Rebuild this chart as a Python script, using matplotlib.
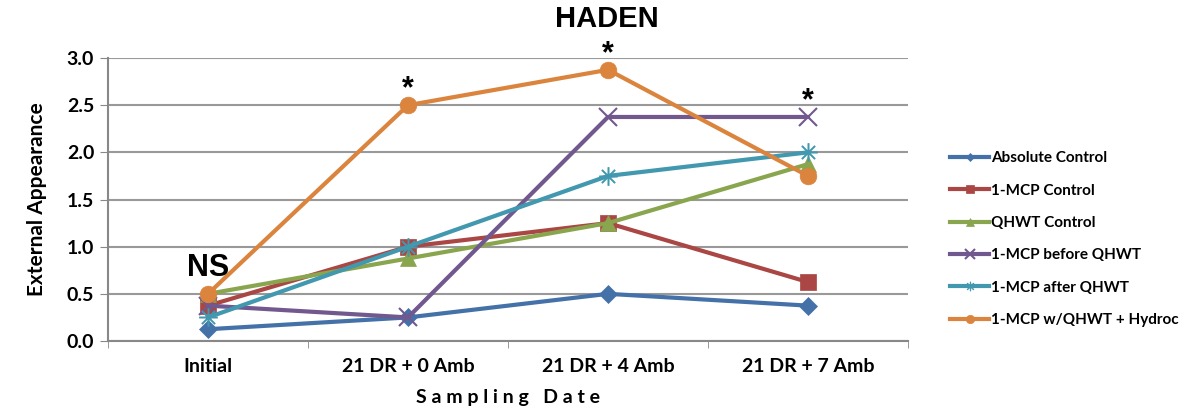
import numpy as np
import matplotlib
matplotlib.use('Agg')
import matplotlib.pyplot as plt
from matplotlib.ticker import FixedLocator

# sampling dates
dates = ['Initial', '21 DR + 0 Amb', '21 DR + 4 Amb', '21 DR + 7 Amb']

# external appearance per treatment
absolute_control = [0.125, 0.25, 0.5, 0.375]
mcp_control = [0.375, 1.0, 1.25, 0.625]
qhwt_control = [0.5, 0.875, 1.25, 1.875]
mcp_before_qhwt = [0.375, 0.25, 2.375, 2.375]
mcp_after_qhwt = [0.25, 1.0, 1.75, 2.0]
mcp_qhwt_hydroc = [0.5, 2.5, 2.875, 1.75]

names = ['Absolute Control', '1-MCP Control', 'QHWT Control',
         '1-MCP before QHWT', '1-MCP after QHWT', '1-MCP w/QHWT + Hydroc']

# significance marks
sig_labels = ['NS', '*', '*', '*']

plt.rcParams['font.family'] = ['Lato', 'DejaVu Sans']

fig = plt.figure(figsize=(11.86, 4.15), dpi=100)
ax = fig.add_axes([0.0911, 0.1783, 0.6745, 0.6819])

x = np.arange(len(dates))
series = [absolute_control, mcp_control, qhwt_control,
          mcp_before_qhwt, mcp_after_qhwt, mcp_qhwt_hydroc]
colors = ['#4472A8', '#AA4643', '#89A54E', '#71588F', '#4198AF', '#DB843D']
markers = ['D', 's', '^', 'x', '$\u2733$', 'o']
sizes = [9, 12, 11, 13, 13, 12]

for s, n, c, m, ms in zip(series, names, colors, markers, sizes):
    ax.plot(x, s, color=c, lw=3, marker=m, markersize=ms, label=n,
            markeredgecolor=c, markeredgewidth=1.5 if m == 'x' else 0.5,
            zorder=3)

ax.set_xlim(-0.5, 3.5)
ax.set_ylim(0, 3.0)
ax.set_yticks(np.arange(0, 3.01, 0.5))
ax.set_yticklabels(['%.1f' % v for v in np.arange(0, 3.01, 0.5)],
                   fontsize=14, fontweight='bold')
ax.set_xticks(x)
ax.set_xticklabels(dates, fontsize=14, fontweight='bold')
ax.xaxis.set_minor_locator(FixedLocator([-0.5, 0.5, 1.5, 2.5, 3.5]))
ax.tick_params(axis='x', which='major', length=0, pad=12)
ax.tick_params(axis='x', which='minor', length=5, color='#888888')
ax.tick_params(axis='y', length=6, color='#888888', pad=4)

ax.grid(axis='y', color='#999999', lw=1.5)
ax.set_axisbelow(True)
for sp in ['top', 'right']:
    ax.spines[sp].set_visible(False)
for sp in ['left', 'bottom']:
    ax.spines[sp].set_color('#888888')
    ax.spines[sp].set_linewidth(1.5)

ax.set_ylabel('External Appearance', fontsize=15, fontweight='bold', labelpad=14)
ax.set_xlabel(' '.join('Sampling') + '   ' + ' '.join('Date'),
              fontsize=14, fontweight='bold', labelpad=10)
fig.text(607 / 1186, 1 - 19 / 415, 'HADEN', fontsize=21, fontweight='bold',
         family='Liberation Sans', ha='center', va='center')

# significance annotations
top = [max(v) for v in zip(*series)]
ax.text(0, 0.62, sig_labels[0], fontsize=22, fontweight='bold',
        family='Liberation Sans', ha='center', va='bottom')
for i in range(1, 4):
    ax.text(i, top[i] + 0.01, sig_labels[i], fontsize=22, fontweight='bold',
            family='Liberation Sans', ha='center', va='bottom')

ax.legend(loc='center left', bbox_to_anchor=(1.035, 0.36), frameon=False,
          prop={'weight': 'bold', 'size': 11}, handlelength=2.6,
          labelspacing=1.2, handletextpad=0.1, markerscale=0.5)

fig.savefig('out.png', dpi=100)
